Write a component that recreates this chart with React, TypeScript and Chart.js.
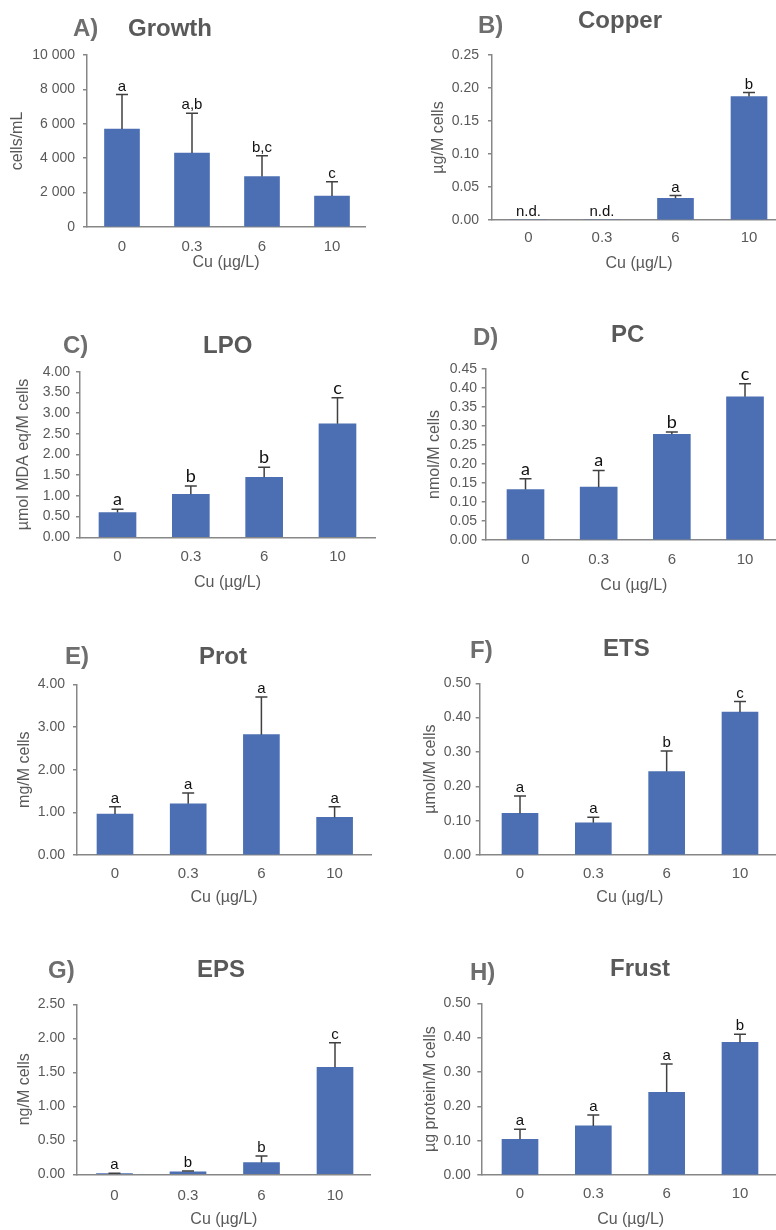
import React, { useEffect, useRef } from "react";
import { Chart, registerables } from "chart.js";
Chart.register(...registerables);

// ---------- data ----------
const categories = ["0", "0.3", "6", "10"];

const growthValues = [5700, 4300, 2930, 1800];
const growthErrors = [2000, 2310, 1215, 830];
const growthLetters = ["a", "a,b", "b,c", "c"];
const growthTicks = [0, 2000, 4000, 6000, 8000, 10000];

const copperValues = [0, 0, 0.033, 0.187];
const copperErrors = [0, 0, 0.004, 0.006];
const copperLetters = ["n.d.", "n.d.", "a", "b"];
const copperTicks = [0, 0.05, 0.1, 0.15, 0.2, 0.25];

const lpoValues = [0.6, 1.04, 1.45, 2.74];
const lpoErrors = [0.08, 0.2, 0.24, 0.63];
const lpoLetters = ["a", "b", "b", "c"];
const lpoTicks = [0, 0.5, 1, 1.5, 2, 2.5, 3, 3.5, 4];

const pcValues = [0.133, 0.139, 0.278, 0.377];
const pcErrors = [0.028, 0.044, 0.006, 0.034];
const pcLetters = ["a", "a", "b", "c"];
const pcTicks = [0, 0.05, 0.1, 0.15, 0.2, 0.25, 0.3, 0.35, 0.4, 0.45];

const protValues = [0.96, 1.2, 2.82, 0.88];
const protErrors = [0.17, 0.25, 0.88, 0.25];
const protLetters = ["a", "a", "a", "a"];
const protTicks = [0, 1, 2, 3, 4];

const etsValues = [0.121, 0.094, 0.243, 0.416];
const etsErrors = [0.051, 0.016, 0.06, 0.031];
const etsLetters = ["a", "a", "b", "c"];
const etsTicks = [0, 0.1, 0.2, 0.3, 0.4, 0.5];

const epsValues = [0.005, 0.038, 0.171, 1.573];
const epsErrors = [0.01, 0.012, 0.098, 0.362];
const epsLetters = ["a", "b", "b", "c"];
const epsTicks = [0, 0.5, 1, 1.5, 2, 2.5];

const frustValues = [0.104, 0.143, 0.241, 0.386];
const frustErrors = [0.029, 0.032, 0.082, 0.024];
const frustLetters = ["a", "a", "a", "b"];
const frustTicks = [0, 0.1, 0.2, 0.3, 0.4, 0.5];

// ---------- styles ----------
const SANS = "'Liberation Sans', Arial, sans-serif";
const CAL = "Lato, 'Liberation Sans', sans-serif";
const BAR = "#4b6fb2";
const AXIS = "#878787";
const TXT = "#595959";
const ERR = "#404040";

const fmtThousands = (v: number) =>
  v >= 1000 ? Math.floor(v / 1000) + " " + String(v % 1000).padStart(3, "0") : String(v);
const fmt2 = (v: number) => v.toFixed(2);

type Panel = {
  key: string;
  tag: string;
  title: string;
  yTitle: string;
  values: number[];
  errors: number[];
  letters: string[];
  ticks: number[];
  fmt: (v: number) => string;
  box: [number, number, number, number];
  area: [number, number, number, number];
  c0: number;
  step: number;
  tagPos: [number, number];
  titlePos: [number, number];
  xTickPad: number;
  xTitleY: number;
  yTitleX: number;
  yTickPad: number;
  letterFont: string;
  barW: number;
};

const panels: Panel[] = [
  {
    key: "A", tag: "A)", title: "Growth", yTitle: "cells/mL",
    values: growthValues, errors: growthErrors, letters: growthLetters, ticks: growthTicks, fmt: fmtThousands,
    box: [0, 0, 388, 280], area: [87, 55, 365, 227], c0: 122, step: 70,
    tagPos: [73, 27.5], titlePos: [128, 27.5], xTickPad: 10.5, xTitleY: 263, yTitleX: 18, yTickPad: 8,
    letterFont: `15px ${SANS}`, barW: 35,
  },
  {
    key: "B", tag: "B)", title: "Copper", yTitle: "µg/M cells",
    values: copperValues, errors: copperErrors, letters: copperLetters, ticks: copperTicks, fmt: fmt2,
    box: [388, 0, 400, 280], area: [492, 55, 786, 220], c0: 528.5, step: 73.5,
    tagPos: [478, 24], titlePos: [578, 19], xTickPad: 9, xTitleY: 264, yTitleX: 439, yTickPad: 9,
    letterFont: `15px ${SANS}`, barW: 36,
  },
  {
    key: "C", tag: "C)", title: "LPO", yTitle: "µmol MDA eq/M cells",
    values: lpoValues, errors: lpoErrors, letters: lpoLetters, ticks: lpoTicks, fmt: fmt2,
    box: [0, 300, 388, 300], area: [80, 371.7, 375, 537.3], c0: 117.5, step: 73.33,
    tagPos: [63, 344], titlePos: [203, 344], xTickPad: 10.2, xTitleY: 583, yTitleX: 24, yTickPad: 6,
    letterFont: `18px ${CAL}`, barW: 37,
  },
  {
    key: "D", tag: "D)", title: "PC", yTitle: "nmol/M cells",
    values: pcValues, errors: pcErrors, letters: pcLetters, ticks: pcTicks, fmt: fmt2,
    box: [388, 300, 400, 300], area: [485.7, 369, 782, 540], c0: 525.5, step: 73.17,
    tagPos: [473, 336], titlePos: [611, 333], xTickPad: 11, xTitleY: 586, yTitleX: 435, yTickPad: 4.7,
    letterFont: `18px ${CAL}`, barW: 37,
  },
  {
    key: "E", tag: "E)", title: "Prot", yTitle: "mg/M cells",
    values: protValues, errors: protErrors, letters: protLetters, ticks: protTicks, fmt: fmt2,
    box: [0, 600, 388, 310], area: [77, 684.3, 371, 855], c0: 115, step: 73.2,
    tagPos: [65, 655], titlePos: [199, 655], xTickPad: 10, xTitleY: 898, yTitleX: 25, yTickPad: 8,
    letterFont: `15px ${SANS}`, barW: 36,
  },
  {
    key: "F", tag: "F)", title: "ETS", yTitle: "µmol/M cells",
    values: etsValues, errors: etsErrors, letters: etsLetters, ticks: etsTicks, fmt: fmt2,
    box: [388, 600, 400, 310], area: [479.7, 683.3, 780, 855], c0: 520, step: 73.33,
    tagPos: [470, 649], titlePos: [603, 647], xTickPad: 10, xTitleY: 898, yTitleX: 431, yTickPad: 4.7,
    letterFont: `15px ${SANS}`, barW: 36,
  },
  {
    key: "G", tag: "G)", title: "EPS", yTitle: "ng/M cells",
    values: epsValues, errors: epsErrors, letters: epsLetters, ticks: epsTicks, fmt: fmt2,
    box: [0, 900, 388, 330], area: [77, 1004.3, 370.7, 1174.3], c0: 114.5, step: 73.5,
    tagPos: [48, 969], titlePos: [197, 968], xTickPad: 12.7, xTitleY: 1220, yTitleX: 25, yTickPad: 8,
    letterFont: `15px ${SANS}`, barW: 36,
  },
  {
    key: "H", tag: "H)", title: "Frust", yTitle: "µg protein/M cells",
    values: frustValues, errors: frustErrors, letters: frustLetters, ticks: frustTicks, fmt: fmt2,
    box: [388, 900, 400, 330], area: [481.3, 1003.3, 780, 1175], c0: 520, step: 73.33,
    tagPos: [470, 971], titlePos: [610, 967.5], xTickPad: 10, xTitleY: 1220, yTitleX: 431, yTickPad: 6.6,
    letterFont: `15px ${SANS}`, barW: 36,
  },
];

function makeConfig(p: Panel): any {
  const [x0, y0, w, h] = p.box;
  const [L, T, R, B] = p.area;
  const xmin = -(p.c0 - L) / p.step;
  const xmax = (R - p.c0) / p.step;
  const annot = {
    id: "annot" + p.key,
    afterDatasetsDraw(chart: any) {
      const ctx = chart.ctx as CanvasRenderingContext2D;
      const xs = chart.scales.x;
      const ys = chart.scales.y;
      ctx.save();
      p.values.forEach((v, i) => {
        const cx = xs.getPixelForValue(i);
        const yTop = ys.getPixelForValue(v);
        const yErr = ys.getPixelForValue(v + p.errors[i]);
        if (p.errors[i] > 0) {
          ctx.strokeStyle = ERR;
          ctx.lineWidth = 1.5;
          ctx.beginPath();
          ctx.moveTo(cx, yTop);
          ctx.lineTo(cx, yErr);
          ctx.moveTo(cx - 6, yErr);
          ctx.lineTo(cx + 6, yErr);
          ctx.stroke();
        }
        ctx.fillStyle = "#111";
        ctx.font = p.letterFont;
        ctx.textAlign = "center";
        ctx.textBaseline = "alphabetic";
        ctx.fillText(p.letters[i], cx, yErr - 4);
      });
      ctx.textAlign = "left";
      ctx.textBaseline = "alphabetic";
      ctx.font = `bold 24px ${SANS}`;
      ctx.fillStyle = "#6e6e6e";
      ctx.fillText(p.tag, p.tagPos[0] - x0, p.tagPos[1] - y0 + 8.6);
      ctx.fillStyle = TXT;
      ctx.fillText(p.title, p.titlePos[0] - x0, p.titlePos[1] - y0 + 8.6);
      ctx.restore();
    },
  };
  return {
    type: "bar",
    data: {
      datasets: [
        {
          data: p.values.map((v, i) => ({ x: i, y: v })),
          backgroundColor: BAR,
          borderWidth: 0,
          barThickness: p.barW,
        },
      ],
    },
    options: {
      animation: false,
      responsive: false,
      devicePixelRatio: 1,
      layout: { autoPadding: false, padding: { left: 0, top: T - y0, right: x0 + w - R, bottom: 0 } },
      plugins: { legend: { display: false }, tooltip: { enabled: false }, title: { display: false } },
      scales: {
        x: {
          type: "linear",
          offset: false,
          min: xmin,
          max: xmax,
          afterBuildTicks: (s: any) => {
            s.ticks = categories.map((_, i) => ({ value: i }));
          },
          afterFit: (s: any) => {
            s.height = y0 + h - B;
          },
          grid: { display: false, drawTicks: false, offset: false },
          border: { display: true, color: AXIS, width: 1.5 },
          ticks: {
            autoSkip: false,
            maxRotation: 0,
            padding: p.xTickPad,
            color: TXT,
            font: { family: SANS, size: 15 },
            callback: (_v: any, i: number) => categories[i],
          },
          title: {
            display: true,
            text: "Cu (µg/L)",
            color: TXT,
            font: { family: SANS, size: 16 },
            padding: { top: 0, bottom: y0 + h - p.xTitleY - 9.6 },
          },
        },
        y: {
          type: "linear",
          min: p.ticks[0],
          max: p.ticks[p.ticks.length - 1],
          afterBuildTicks: (s: any) => {
            s.ticks = p.ticks.map((v) => ({ value: v }));
          },
          afterFit: (s: any) => {
            s.width = L - x0;
          },
          grid: { display: true, drawOnChartArea: false, drawTicks: true, tickLength: 4, color: AXIS, lineWidth: 1.5 },
          border: { display: true, color: AXIS, width: 1.5 },
          ticks: {
            autoSkip: false,
            padding: p.yTickPad,
            color: TXT,
            font: { family: SANS, size: 14 },
            callback: (v: any) => p.fmt(Number(v)),
          },
          title: {
            display: true,
            text: p.yTitle,
            color: TXT,
            font: { family: SANS, size: 16 },
            padding: { top: p.yTitleX - x0 - 9.6, bottom: 0 },
          },
        },
      },
    },
    plugins: [annot],
  };
}

function PanelChart({ p }: { p: Panel }) {
  const ref = useRef<HTMLCanvasElement | null>(null);
  useEffect(() => {
    if (!ref.current) return;
    const chart = new Chart(ref.current, makeConfig(p));
    return () => chart.destroy();
  }, [p]);
  const [x0, y0, w, h] = p.box;
  return (
    <canvas
      ref={ref}
      width={w}
      height={h}
      style={{ position: "absolute", left: x0, top: y0, width: w, height: h }}
    />
  );
}

export default function App() {
  return (
    <div
      style={{
        position: "absolute",
        left: 0,
        top: 0,
        width: 776,
        height: 1230,
        overflow: "hidden",
        background: "#fff",
      }}
    >
      {panels.map((p) => (
        <PanelChart key={p.key} p={p} />
      ))}
    </div>
  );
}
